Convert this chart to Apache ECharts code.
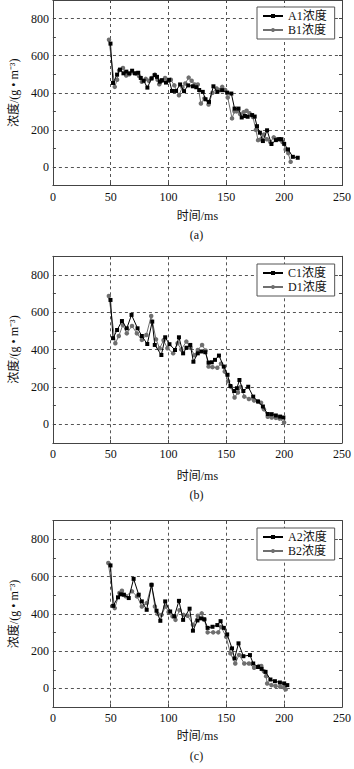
<!DOCTYPE html>
<html><head><meta charset="utf-8">
<script src="https://cdn.jsdelivr.net/npm/echarts@6/dist/echarts.min.js"></script>
<style>html,body{margin:0;padding:0;background:#fff}#c{width:354px;height:769px}</style>
</head><body><div id="c"></div>
<script>
const panelLabels = ['(a)', '(b)', '(c)'];
const seriesNames = [['A1浓度', 'B1浓度'], ['C1浓度', 'D1浓度'], ['A2浓度', 'B2浓度']];
const xTickValues = [0, 50, 100, 150, 200, 250];
const yTickValues = [0, 200, 400, 600, 800];
const xName = '时间/ms';
const yName = '浓度/(g • m⁻³)';

// Panel (a)
const A1 = [[49.8,665],[52,453],[55.5,498],[58,525],[61,505],[63.5,514],[66,505],[68.5,519],[71,505],[73.8,508],[76,480],[78.5,465],[81.7,428],[85.3,477],[88,495],[90,486],[92.5,460],[94.3,468],[97.8,455],[100.5,470],[103,410],[106.5,410],[110,445],[113.4,409],[117,440],[121,435],[124,430],[126.5,415],[129.6,405],[132,365],[135,351],[138.8,435],[142.2,405],[146.4,414],[150.7,401],[154.3,396],[157.1,315],[160.5,315],[163.3,267],[166,275],[168.4,271],[172.3,280],[174.5,272],[176.5,220],[179,185],[181.6,140],[185.2,198],[189,124],[192.8,145],[195.7,150],[197.6,150],[200,125],[203.3,95],[207.5,55],[211.7,50]];
const B1 = [[48.5,686],[53.5,432],[55.5,470],[57.2,521],[60.6,534],[63.4,493],[66,500],[68.5,510],[71.8,504],[74.5,490],[76.9,459],[80.3,475],[83,465],[85.5,480],[88.2,498],[90.5,470],[92,446],[94.5,465],[97,480],[99.5,465],[102,470],[105,440],[109,387],[112,430],[114.5,450],[117.4,482],[120,465],[122.5,445],[125.3,445],[128,342],[131,370],[134.6,337],[138,400],[141.6,423],[144,415],[146.4,432],[149,415],[151.2,375],[154.9,262],[157,300],[159,300],[162,285],[165,295],[167.5,303],[170,290],[173,270],[175.5,200],[177.4,145],[180,150],[182.5,175],[185,150],[188,135],[191,160],[193.5,150],[196,150],[198.5,135],[201.3,95],[203.5,75],[205.6,28]];
// Panel (b)
const C1 = [[49.8,666],[52,461],[55.5,505],[59.7,553],[63.9,514],[68,586],[73.2,514],[76.9,473],[81.6,430],[85.9,550],[88.1,425],[93.8,371],[97.1,466],[100.8,429],[105.6,398],[109,466],[112.6,380],[115.5,410],[118.8,425],[121.5,335],[125.3,380],[128.5,390],[131.8,386],[134.6,330],[137.4,332],[140.2,345],[143.6,368],[147.8,309],[151,265],[153.5,205],[156.8,178],[159.1,193],[161.3,237],[164.7,178],[168.9,201],[173.2,148],[177.4,122],[181.6,95],[185.8,55],[189.2,54],[192.8,47],[196.5,41],[199.3,36]];
const D1 = [[48.4,687],[54,434],[57,473],[60.5,532],[63.9,487],[68.4,527],[72.6,487],[76.9,452],[80.8,478],[85,580],[89.2,455],[92.3,407],[95.7,450],[99,407],[104,380],[107.8,434],[111,400],[115.4,443],[119,410],[122.5,370],[125.3,398],[129,425],[132,395],[134.6,309],[138,306],[142.2,303],[145.4,325],[148.6,282],[151.5,230],[154,200],[157.1,143],[160,170],[162.5,200],[165.5,148],[169.5,135],[174,127],[177.4,122],[180,115],[182.5,80],[185.8,40],[189.2,36],[192.8,34],[196,30],[199.9,9]];
// Panel (c)
const A2 = [[49.8,660],[52.1,443],[56.3,489],[58.5,505],[61.4,503],[65.6,485],[69.8,588],[74.2,503],[76.9,467],[81.1,422],[85.3,556],[89.6,417],[92.9,363],[97.1,467],[101.4,413],[105,387],[109,470],[112.6,368],[118.2,428],[121.1,310],[125,365],[128.1,376],[130.9,371],[133.8,325],[138,331],[142.2,340],[145,361],[147.8,325],[150.7,290],[154.9,215],[157.1,161],[160.5,242],[164.7,173],[170.4,179],[173.2,134],[177.4,115],[180.5,105],[183.9,89],[188.1,48],[192,39],[196.3,32],[200,27],[202.7,18]];
const B2 = [[47.9,673],[53.5,431],[57.5,512],[59.7,524],[63,495],[68.4,521],[72.7,494],[76.9,440],[81.1,458],[85.3,556],[88.2,440],[90.5,400],[94,395],[97.5,440],[100,410],[103.4,387],[106,368],[109.5,420],[113,395],[116.5,390],[121.1,342],[125.3,390],[128.7,403],[131,370],[133.8,301],[138.6,301],[143,301],[145.5,330],[149.8,277],[153.5,188],[157.7,134],[161,180],[165.5,134],[169.5,134],[174,111],[178,120],[180.2,121],[182.5,92],[184.4,66],[185.3,27],[189,18],[192.5,13],[196.5,9],[200,5],[201.3,-5]];

const panelData = [[A1, B1], [C1, D1], [A2, B2]];

const FONT = '"Liberation Serif", "Noto Sans CJK SC", serif';
const AX = '#444';
const GRIDC = '#555';
const grids = [
  {top: 0, height: 185.6},
  {top: 256.3, height: 186.6},
  {top: 520.7, height: 186.4}
];
const legendTops = [7, 264, 528];
const xNameGaps = [24, 27, 23];
const subY = [235, 495, 756];

const option = {
  animation: false,
  backgroundColor: '#fff',
  grid: [], xAxis: [], yAxis: [], series: [], legend: [], graphic: []
};

grids.forEach((g, i) => {
  option.grid.push({left: 48.5, width: 296, top: g.top, height: g.height, show: false, containLabel: false});
  option.xAxis.push({
    gridIndex: i, type: 'value', min: 0, max: 250, interval: 50, position: 'bottom',
    name: xName, nameLocation: 'middle', nameGap: xNameGaps[i],
    nameTextStyle: {fontFamily: FONT, fontSize: 12, color: '#111'},
    axisLine: {show: true, onZero: false, lineStyle: {color: AX}},
    axisTick: {show: true, inside: true, length: 3, lineStyle: {color: AX}},
    axisLabel: {formatter: v => xTickValues.includes(v) ? String(v) : '', fontFamily: FONT, fontSize: 12, color: '#111', margin: 5},
    splitLine: {show: true, lineStyle: {color: GRIDC, type: [3, 3], width: 1}}
  });
  option.xAxis.push({
    gridIndex: i, type: 'value', min: 0, max: 250, interval: 50, position: 'top',
    axisLine: {show: true, onZero: false, lineStyle: {color: AX}},
    axisTick: {show: true, inside: true, length: 3, lineStyle: {color: AX}},
    axisLabel: {show: false}, splitLine: {show: false}
  });
  option.yAxis.push({
    gridIndex: i, type: 'value', min: -100, max: 900, interval: 100, position: 'left',
    name: yName, nameLocation: 'middle', nameGap: 29, nameRotate: 90,
    nameTextStyle: {fontFamily: FONT, fontSize: 12, color: '#111'},
    axisLine: {show: true, onZero: false, lineStyle: {color: AX}},
    axisTick: {show: true, inside: true, length: 3, lineStyle: {color: AX}},
    axisLabel: {formatter: v => yTickValues.includes(v) ? String(v) : '', fontFamily: FONT, fontSize: 12, color: '#111', margin: 4},
    splitLine: {show: true, lineStyle: {color: ['rgba(0,0,0,0)', GRIDC], type: [3, 3], width: 1}}
  });
  option.yAxis.push({
    gridIndex: i, type: 'value', min: -100, max: 900, interval: 100, position: 'right',
    axisLine: {show: true, onZero: false, lineStyle: {color: AX}},
    axisTick: {show: true, inside: true, length: 3, lineStyle: {color: AX}},
    axisLabel: {show: false}, splitLine: {show: false}
  });
  const [blackData, grayData] = panelData[i];
  const [blackName, grayName] = seriesNames[i];
  option.series.push({
    name: grayName, type: 'line', xAxisIndex: 2 * i, yAxisIndex: 2 * i, data: grayData,
    symbol: 'circle', symbolSize: 4.5, z: 2,
    lineStyle: {color: '#6f6f6f', width: 1}, itemStyle: {color: '#6f6f6f'}
  });
  option.series.push({
    name: blackName, type: 'line', xAxisIndex: 2 * i, yAxisIndex: 2 * i, data: blackData,
    symbol: 'rect', symbolSize: 4, z: 3,
    lineStyle: {color: '#000', width: 1}, itemStyle: {color: '#000'}
  });
  option.legend.push({
    data: [blackName, grayName], orient: 'vertical', left: 257, top: legendTops[i],
    itemWidth: 20, itemHeight: 5, itemGap: 2, padding: [3, 8, 3, 5],
    backgroundColor: '#fff', borderColor: '#555', borderWidth: 1, borderRadius: 0,
    textStyle: {fontFamily: FONT, fontSize: 12, color: '#111'},
    selectedMode: false
  });
  option.graphic.push({
    type: 'text', x: 196.5, y: subY[i],
    style: {text: panelLabels[i], fontFamily: FONT, fontSize: 12, fill: '#111', textAlign: 'center', textVerticalAlign: 'middle'}
  });
});

const chart = echarts.init(document.getElementById('c'), null, {renderer: 'svg'});
chart.setOption(option);
</script>
</body></html>
